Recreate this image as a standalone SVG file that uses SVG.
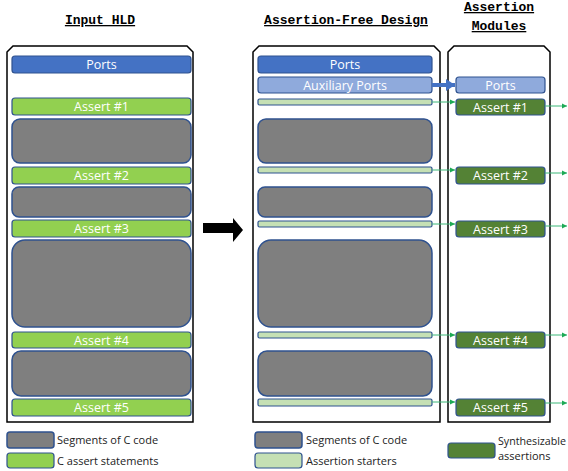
<svg xmlns="http://www.w3.org/2000/svg" width="568" height="471" viewBox="0 0 568 471">
<style>
.title{font-family:"Liberation Mono",monospace;font-weight:bold;font-size:13px;fill:#000;text-decoration:underline}
.panel{fill:#fff;stroke:#000;stroke-width:1.5}
.lbl{font-family:"Open Sans","Noto Sans",sans-serif;font-size:12.5px;fill:#fff;text-anchor:middle}
.leg{font-family:"Open Sans","Noto Sans",sans-serif;font-size:11px;fill:#222}
.ports{fill:#4472C4;stroke:#2F528F;stroke-width:1.2}
.aux{fill:#8FAADC;stroke:#2F528F;stroke-width:1.2}
.assert{fill:#92D050;stroke:#2F528F;stroke-width:1.2}
.code{fill:#7F7F7F;stroke:#2F528F;stroke-width:1.5}
.starter{fill:#C5E0B4;stroke:#2F528F;stroke-width:1.2}
.synth{fill:#548235;stroke:#2F528F;stroke-width:1.2}
.gl{stroke:#3CB878;stroke-width:1;fill:none}
</style>
<defs>
<marker id="ga" markerWidth="6" markerHeight="6" refX="5" refY="3" orient="auto" markerUnits="userSpaceOnUse"><path d="M0,0.5 L5,3 L0,5.5 Z" fill="#1DAA55"/></marker>
<marker id="ba" markerWidth="10" markerHeight="12" refX="9" refY="6" orient="auto" markerUnits="userSpaceOnUse"><path d="M0,0 L9,6 L0,12 Z" fill="#4472C4"/></marker>
</defs>

<g id="titles">
<text class="title" x="100" y="24" text-anchor="middle">Input HLD</text>
<text class="title" x="346" y="24" text-anchor="middle">Assertion-Free Design</text>
<text class="title" x="499" y="11" text-anchor="middle">Assertion</text>
<text class="title" x="499" y="30" text-anchor="middle">Modules</text>
</g>

<g id="panel-input">
<path class="panel" d="M7,52 L13,46 L187,46 L193,52 L193,422 L7,422 Z"/>
<g id="in-ports"><rect class="ports" x="12" y="56" width="179" height="17" rx="3"/><text class="lbl" x="101.5" y="69">Ports</text></g>
<g id="in-a1"><rect class="assert" x="12" y="98" width="179" height="17" rx="3"/><text class="lbl" x="101.5" y="111">Assert #1</text></g>
<g id="in-c1"><rect class="code" x="12" y="119" width="179" height="44" rx="8"/></g>
<g id="in-a2"><rect class="assert" x="12" y="167" width="179" height="17" rx="3"/><text class="lbl" x="101.5" y="180">Assert #2</text></g>
<g id="in-c2"><rect class="code" x="12" y="187" width="179" height="30" rx="7"/></g>
<g id="in-a3"><rect class="assert" x="12" y="220" width="179" height="17" rx="3"/><text class="lbl" x="101.5" y="233">Assert #3</text></g>
<g id="in-c3"><rect class="code" x="12" y="240" width="179" height="87" rx="13"/></g>
<g id="in-a4"><rect class="assert" x="12" y="332" width="179" height="16" rx="3"/><text class="lbl" x="101.5" y="345">Assert #4</text></g>
<g id="in-c4"><rect class="code" x="12" y="351" width="179" height="45" rx="9"/></g>
<g id="in-a5"><rect class="assert" x="12" y="399" width="179" height="17" rx="3"/><text class="lbl" x="101.5" y="412">Assert #5</text></g>
</g>

<g id="panel-free">
<path class="panel" d="M253,52 L259,46 L434,46 L440,52 L440,422 L253,422 Z"/>
<g id="af-ports"><rect class="ports" x="258" y="56" width="174" height="17" rx="3"/><text class="lbl" x="345" y="69">Ports</text></g>
<g id="af-aux"><rect class="aux" x="258" y="77" width="174" height="16" rx="3"/><text class="lbl" x="345" y="90">Auxiliary Ports</text></g>
<g id="af-s1"><rect class="starter" x="258" y="99" width="174" height="6" rx="1.5"/></g>
<g id="af-c1"><rect class="code" x="258" y="119" width="174" height="44" rx="8"/></g>
<g id="af-s2"><rect class="starter" x="258" y="167" width="174" height="6" rx="1.5"/></g>
<g id="af-c2"><rect class="code" x="258" y="187" width="174" height="30" rx="7"/></g>
<g id="af-s3"><rect class="starter" x="258" y="221" width="174" height="6" rx="1.5"/></g>
<g id="af-c3"><rect class="code" x="258" y="240" width="174" height="87" rx="13"/></g>
<g id="af-s4"><rect class="starter" x="258" y="332" width="174" height="6" rx="1.5"/></g>
<g id="af-c4"><rect class="code" x="258" y="351" width="174" height="45" rx="9"/></g>
<g id="af-s5"><rect class="starter" x="258" y="399" width="174" height="7" rx="1.5"/></g>
</g>

<g id="panel-modules">
<path class="panel" d="M448,52 L454,46 L544,46 L550,52 L550,422 L448,422 Z"/>
<g id="m-ports"><rect class="aux" x="456" y="77" width="89" height="16" rx="3"/><text class="lbl" x="500.5" y="90">Ports</text></g>
<g id="m-a1"><rect class="synth" x="456" y="99" width="89" height="16" rx="3"/><text class="lbl" x="500.5" y="112">Assert #1</text></g>
<g id="m-a2"><rect class="synth" x="456" y="167" width="89" height="17" rx="3"/><text class="lbl" x="500.5" y="180">Assert #2</text></g>
<g id="m-a3"><rect class="synth" x="456" y="221" width="89" height="16" rx="3"/><text class="lbl" x="500.5" y="234">Assert #3</text></g>
<g id="m-a4"><rect class="synth" x="456" y="332" width="89" height="16" rx="3"/><text class="lbl" x="500.5" y="345">Assert #4</text></g>
<g id="m-a5"><rect class="synth" x="456" y="399" width="89" height="17" rx="3"/><text class="lbl" x="500.5" y="412">Assert #5</text></g>
</g>

<g id="connectors">
<path d="M203,223 L233,223 L233,218 L243,230 L233,242 L233,233 L203,233 Z" fill="#000"/>
<line x1="432" y1="85" x2="455" y2="85" stroke="#4472C4" stroke-width="4" marker-end="url(#ba)"/>
<path class="gl" d="M432,102 L455,102" marker-end="url(#ga)"/>
<path class="gl" d="M432,170 L455,170" marker-end="url(#ga)"/>
<path class="gl" d="M432,224 L455,224" marker-end="url(#ga)"/>
<path class="gl" d="M432,335 L455,335" marker-end="url(#ga)"/>
<path class="gl" d="M432,402 L455,402" marker-end="url(#ga)"/>
<path class="gl" d="M545,106 L567,106" marker-end="url(#ga)"/>
<path class="gl" d="M545,173 L567,173" marker-end="url(#ga)"/>
<path class="gl" d="M545,226 L567,226" marker-end="url(#ga)"/>
<path class="gl" d="M545,335 L567,335" marker-end="url(#ga)"/>
<path class="gl" d="M545,403 L567,403" marker-end="url(#ga)"/>
</g>

<g id="legend">
<rect class="code" x="7" y="432" width="47" height="16" rx="3"/>
<text class="leg" x="57" y="444">Segments of C code</text>
<rect class="assert" x="7" y="453" width="47" height="15" rx="3"/>
<text class="leg" x="57" y="465">C assert statements</text>
<rect class="code" x="255" y="432" width="47" height="16" rx="3"/>
<text class="leg" x="306" y="444">Segments of C code</text>
<rect class="starter" x="255" y="453" width="47" height="15" rx="3"/>
<text class="leg" x="306" y="465">Assertion starters</text>
<rect class="synth" x="448" y="443" width="47" height="15" rx="3"/>
<text class="leg" x="498" y="445" textLength="68" lengthAdjust="spacingAndGlyphs">Synthesizable</text>
<text class="leg" x="498" y="460">assertions</text>
</g>
</svg>
